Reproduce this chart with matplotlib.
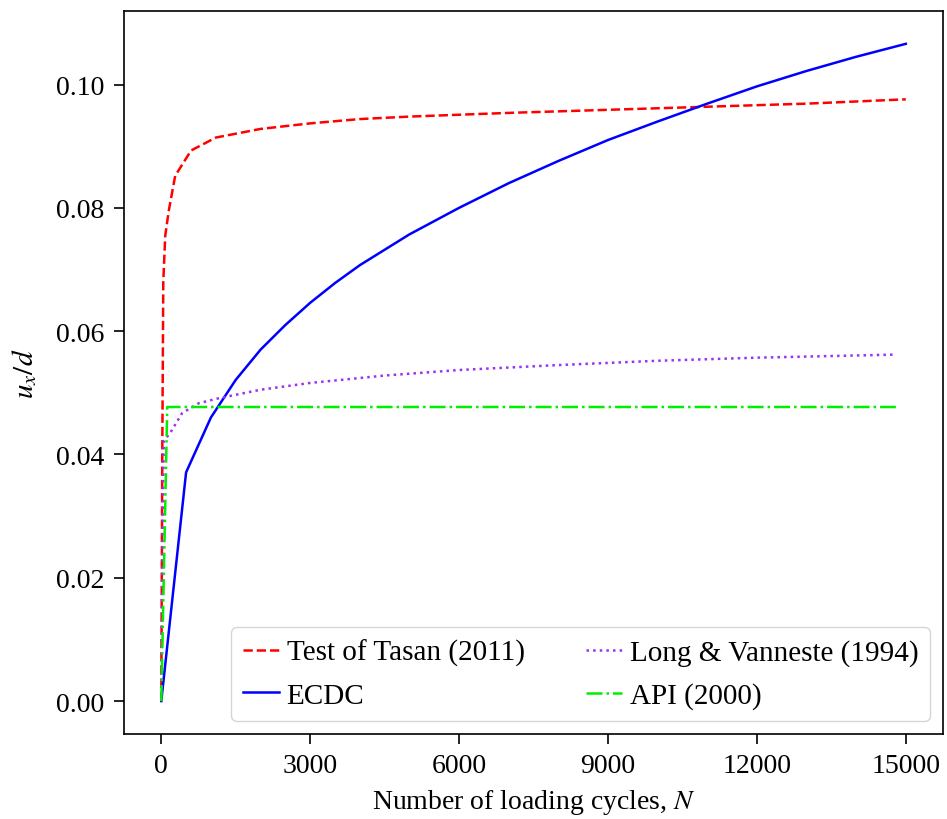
import matplotlib
matplotlib.use("Agg")
import matplotlib.pyplot as plt

plt.rcParams['font.family'] = ['Liberation Serif', 'DejaVu Serif']
plt.rcParams['mathtext.fontset'] = 'stix'

# Test of Tasan (2011)
tasan_n = [0, 20, 40, 80, 150, 280, 600, 1100, 2000, 3000, 4000, 5000, 7000, 9000, 11000, 13000, 15000]
tasan_u = [0, 0.040, 0.068, 0.0755, 0.0795, 0.0852, 0.0893, 0.0914, 0.0928, 0.0937, 0.0944, 0.0948, 0.0954, 0.0959, 0.0964, 0.0969, 0.0976]

# ECDC
ecdc_n = [0, 500, 1000, 1500, 2000, 2500, 3000, 3500, 4000, 5000, 6000, 7000, 8000, 9000, 10000, 11000, 12000, 13000, 14000, 15000]
ecdc_u = [0, 0.0371, 0.0460, 0.0521, 0.0570, 0.0610, 0.0646, 0.0678, 0.0707, 0.0757, 0.0800, 0.0840, 0.0876, 0.0910, 0.0940, 0.0969, 0.0997, 0.1022, 0.1045, 0.1066]

# Long & Vanneste (1994)
lv_n = [0, 30, 50, 180, 420, 750, 1150, 2000, 3000, 4500, 6000, 8000, 10000, 12000, 14800]
lv_u = [0, 0.030, 0.0422, 0.0435, 0.0467, 0.0483, 0.0491, 0.0505, 0.0516, 0.0528, 0.0537, 0.0545, 0.0552, 0.0557, 0.0562]

# API (2000)
api_n = [0, 120, 14800]
api_u = [0, 0.0477, 0.0477]

fig = plt.figure(figsize=(9.47, 8.2), dpi=100)
ax = fig.add_axes([0.131, 0.1037, 0.8648, 0.8817])

ax.plot(tasan_n, tasan_u, color='red', linestyle='--', linewidth=1.8, label='Test of Tasan (2011)')
ax.plot(ecdc_n, ecdc_u, color='blue', linestyle='-', linewidth=1.8, label='ECDC')
ax.plot(lv_n, lv_u, color='#9933ee', linestyle=':', linewidth=1.8, label='Long & Vanneste (1994)')
ax.plot(api_n, api_u, color='#00ee00', linestyle='-.', linewidth=1.8, label='API (2000)')

ax.set_xticks([0, 3000, 6000, 9000, 12000, 15000])
ax.set_yticks([0.00, 0.02, 0.04, 0.06, 0.08, 0.10])
ax.set_yticklabels(['0.00', '0.02', '0.04', '0.06', '0.08', '0.10'])
ax.tick_params(labelsize=20, length=7, width=1.2, pad=7)
for s in ax.spines.values():
    s.set_linewidth(1.2)

ax.set_xlabel('Number of loading cycles, $N$', fontsize=20, labelpad=6)
ax.set_ylabel('$u_x/d$', fontsize=21, labelpad=12)

ax.legend(loc='lower right', ncol=2, fontsize=21, handlelength=1.25, columnspacing=2.1,
          handletextpad=0.25, borderaxespad=0.45, framealpha=0.8, fancybox=True,
          borderpad=0.4, labelspacing=0.55)

fig.savefig('out.png', dpi=100)
